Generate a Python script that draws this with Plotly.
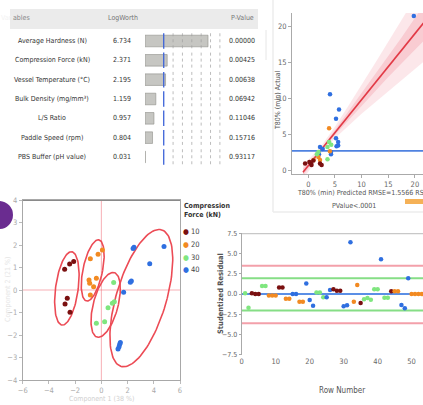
import numpy as np
import plotly.graph_objects as go

W, H = 423, 405
def px(x): return x / W
def py(y): return 1 - y / H

FONT = "Liberation Sans Narrow, DejaVu Sans Condensed, Roboto, sans-serif"

# ---------------- Panel 1: effect summary table ----------------
variables = ["Average Hardness (N)", "Compression Force (kN)", "Vessel Temperature (°C)",
             "Bulk Density (mg/mm³)", "L/S Ratio", "Paddle Speed (rpm)", "PBS Buffer (pH value)"]
logworth = [6.734, 2.371, 2.195, 1.159, 0.957, 0.804, 0.031]
pvalues = ["0.00000", "0.00425", "0.00638", "0.06942", "0.11046", "0.15716", "0.93117"]
logworth_ref = 2.0
logworth_grid = [3, 4, 5, 6, 7, 8]

# ---------------- Panel 2: actual by predicted ----------------
pred_x = [4.07, 5.76, 5.2, 5.2, 5.6, 5.6, 5.3, 4.26, 4.26, 2.2, 2.7, 2.0, 19.8,
          3.9, 4.05, 1.9, 1.0, 2.2,
          3.9, 3.6, 4.3, 3.6, 1.9, 1.6,
          -0.6, 0.5, 0.2, 0.95, 0.6, 2.2, 2.5]
actual_y = [10.6, 8.5, 7.2, 4.5, 4.0, 3.5, 3.4, 2.6, 2.3, 3.3, 3.0, 2.3, 21.5,
            5.9, 2.7, 1.9, 1.5, 1.5,
            4.0, 3.3, 3.6, 1.6, 2.6, 2.3,
            1.0, 1.0, 1.2, 1.4, 0.8, 1.0, 0.8]
pred_group = ["40"] * 13 + ["20"] * 5 + ["30"] * 6 + ["10"] * 7
fit_x = [-1.0, 21.6]
fit_y = [-0.2, 20.5]
band_x = [-1, 0, 2.5, 5, 7.5, 10, 12.5, 15, 17.5, 20, 21.6]
outer_lo = [-1.2, -0.1, 2.5, 4.5, 6.2, 7.9, 9.5, 11.1, 12.6, 14.1, 15.1]
outer_hi = [0.8, 1.5, 3.5, 6.1, 9.0, 11.9, 14.9, 17.9, 20.8, 23.9, 25.9]
inner_lo = [-0.7, 0.35, 2.8, 4.95, 7.0, 9.0, 11.0, 13.0, 14.9, 16.8, 18.0]
inner_hi = [0.3, 1.1, 3.2, 5.65, 8.2, 10.8, 13.3, 15.9, 18.5, 21.2, 22.9]
mean_actual = 2.74

# ---------------- Panel 3: score plot ----------------
groups = ["10", "20", "30", "40"]
colors = {"10": "#7a1010", "20": "#f28a22", "30": "#7fe67f", "40": "#2f6fe0"}
score_x = {
    "10": [-2.80, -2.42, -2.11, -2.60, -2.77, -2.39],
    "20": [-0.84, -0.25, 0.08, -0.94, -0.89, -0.38, -0.59, -0.84],
    "30": [0.94, 0.99, 0.84, 0.51, -0.38, 0.25],
    "40": [2.49, 2.42, 4.78, 3.69, 2.29, 2.21, 1.70, 1.40, 1.35, 1.27, 1.45],
}
score_y = {
    "10": [0.92, 1.16, 1.27, -0.37, -0.62, -0.99],
    "20": [1.39, 1.59, 1.78, 0.44, 0.30, 0.52, 0.15, -0.22],
    "30": [0.33, -0.52, -0.59, -0.79, -1.48, -1.41],
    "40": [1.90, 1.85, 1.93, 1.17, 0.40, 0.34, -0.10, -2.41, -2.52, -2.62, -2.33],
}
# ellipse: centre, semi-diameter to top end, horizontal semi-width
ell_cx = [-2.63, -0.66, 0.33, 3.05]
ell_cy = [0.07, 0.87, -0.66, -0.36]
ell_ux = [0.34, 0.43, 0.56, 1.35]
ell_uy = [1.63, 1.36, 1.44, 3.05]
ell_vx = [0.87, 0.76, 0.97, 1.98]

# ---------------- Panel 4: residual by row ----------------
rows = list(range(1, 54))
resid = [0.1, -1.7, 0.1, 0.0, 0.0, 1.0, 1.0, -0.2, -0.2, -0.2,
         0.8, 0.8, -0.6, -0.6, 0.0, 0.0, -0.95, -0.95, 1.3, -0.75,
         -1.45, 0.2, 0.2, -0.4, -0.4, 0.5, 0.6, 0.4, 0.4, -1.5,
         -1.4, 6.4, -0.95, 1.1, -1.1, -0.65, -0.5, -0.7, 0.6, 0.6,
         4.3, -0.45, -0.45, 0.35, 0.35, 0.35, -1.35, -1.75, 1.95, 0.0,
         0.0, 0.0, 0.0]
resid_group = ["30", "30", "10", "10", "10", "30", "30", "20", "20", "20",
               "10", "10", "20", "20", "40", "40", "20", "20", "40", "40",
               "40", "30", "30", "30", "40", "40", "10", "10", "10", "40",
               "40", "40", "20", "20", "10", "30", "30", "30", "30", "30",
               "40", "30", "30", "10", "20", "20", "40", "40", "40", "20",
               "20", "20", "20"]
resid_levels = [7.5, 3.5, 1.95, 0.0, -2.05, -3.6]
resid_level_colors = ["#c8c8c8", "#f3a0aa", "#86de86", "#5b8fe6", "#86de86", "#f3a0aa"]

fig = go.Figure()
shapes, annos = [], []

def txt(x, y, text, size=7, color="#333", xanchor="center", yref="paper", **kw):
    annos.append(dict(x=x, y=y, xref="paper", yref=yref, text=text, showarrow=False,
                      xanchor=xanchor, yanchor=kw.pop("yanchor", "middle"),
                      font=dict(size=size, color=color, family=FONT), **kw))

# ---- card outlines ----
shapes.append(dict(type="line", xref="paper", yref="paper", x0=px(273), x1=px(273),
                   y0=py(212), y1=py(0), line=dict(color="#ececec", width=1.5), layer="below"))
shapes.append(dict(type="line", xref="paper", yref="paper", x0=px(273), x1=px(423),
                   y0=py(212), y1=py(212), line=dict(color="#ececec", width=1.5), layer="below"))

# ---- Panel 1 ----
fig.add_trace(go.Bar(y=list(range(len(variables))), x=logworth, orientation="h",
                     width=0.6, marker=dict(color="#c6c6c2", line=dict(color="#8e8e8a", width=0.6)),
                     xaxis="x", yaxis="y", showlegend=False, hoverinfo="skip"))
shapes.append(dict(type="rect", xref="paper", yref="paper", x0=px(10), x1=px(258),
                   y0=py(29), y1=py(9), fillcolor="#ebebeb", line=dict(width=0), layer="below"))
shapes.append(dict(type="line", xref="paper", yref="paper", x0=px(266), x1=px(266),
                   y0=py(60), y1=py(30), line=dict(color="#e6e6e6", width=1)))
for i in range(len(variables)):
    shapes.append(dict(type="line", xref="x", yref="y", x0=logworth_ref, x1=logworth_ref,
                       y0=i - 0.4, y1=i + 0.4, line=dict(color="#3d63d8", width=1.3)))
    for g in logworth_grid:
        shapes.append(dict(type="line", xref="x", yref="y", x0=g, x1=g, y0=i - 0.4, y1=i + 0.4,
                           line=dict(color="#a0a0a0", width=0.7, dash="dot")))
    txt(px(52), i, variables[i], yref="y")
    txt(px(122), i, f"{logworth[i]:.3f}", yref="y")
    txt(px(242), i, pvalues[i], yref="y")
txt(px(32), -1.19, '<span style="color:#f3f3f3">Vari</span>ables', color="#888",
    xanchor="right", yref="y")
txt(px(123), -1.19, "LogWorth", color="#777", yref="y")
txt(px(242), -1.19, "P-Value", color="#777", yref="y")

# ---- Panel 2 ----
fig.add_trace(go.Scatter(x=band_x + band_x[::-1], y=outer_hi + outer_lo[::-1], fill="toself",
                         fillcolor="rgba(246,170,178,0.28)", line=dict(width=0), mode="lines",
                         xaxis="x2", yaxis="y2", showlegend=False, hoverinfo="skip"))
fig.add_trace(go.Scatter(x=band_x + band_x[::-1], y=inner_hi + inner_lo[::-1], fill="toself",
                         fillcolor="rgba(238,125,138,0.25)", line=dict(width=0), mode="lines",
                         xaxis="x2", yaxis="y2", showlegend=False, hoverinfo="skip"))
fig.add_trace(go.Scatter(x=fit_x, y=fit_y, mode="lines", line=dict(color="#e23a46", width=1.6),
                         xaxis="x2", yaxis="y2", showlegend=False, hoverinfo="skip"))
fig.add_trace(go.Scatter(x=[-3.06, 21.52], y=[mean_actual, mean_actual], mode="lines",
                         line=dict(color="#4f82e0", width=1.8),
                         xaxis="x2", yaxis="y2", showlegend=False, hoverinfo="skip"))
fig.add_trace(go.Scatter(x=pred_x, y=actual_y, mode="markers",
                         marker=dict(size=4.5, color=[colors[g] for g in pred_group]),
                         xaxis="x2", yaxis="y2", showlegend=False))
txt(px(278), py(100), "T80% (min) Actual", color="#555", textangle=-90)
txt(px(295), py(193), "T80% (min) Predicted RMSE=1.5566 RSq=0.84", color="#555", xanchor="left")
txt(px(354), py(206), "PValue&lt;.0001", color="#555")
shapes.append(dict(type="rect", xref="paper", yref="paper", x0=px(405), x1=px(423),
                   y0=py(204), y1=py(199), fillcolor="#f3a33a", line=dict(width=0), opacity=0.85))

# ---- Panel 3 ----
for k, g in enumerate(groups):
    t = np.linspace(0, 2 * np.pi, 120)
    ex = ell_cx[k] + np.sin(t) * ell_ux[k] + np.cos(t) * ell_vx[k]
    ey = ell_cy[k] + np.sin(t) * ell_uy[k]
    fig.add_trace(go.Scatter(x=ex, y=ey, mode="lines", line=dict(color="#ec4b55", width=1.6),
                             xaxis="x3", yaxis="y3", showlegend=False, hoverinfo="skip"))
for g in groups:
    fig.add_trace(go.Scatter(x=score_x[g], y=score_y[g], mode="markers",
                             marker=dict(size=5, color=colors[g]), name=g,
                             xaxis="x3", yaxis="y3", showlegend=False))
shapes.append(dict(type="line", xref="x3", yref="y3", x0=-6, x1=6, y0=0, y1=0,
                   line=dict(color="rgba(240,110,120,0.55)", width=1), layer="below"))
shapes.append(dict(type="line", xref="x3", yref="y3", x0=0, x1=0, y0=-4, y1=4,
                   line=dict(color="rgba(240,110,120,0.55)", width=1), layer="below"))
shapes.append(dict(type="line", xref="x3", yref="y3", x0=-6, x1=6, y0=4, y1=4,
                   line=dict(color="#8a8a8a", width=2)))
txt(px(182), py(200), "<b>Compression<br>Force (kN)</b>", size=7, color="#333",
    xanchor="left", yanchor="top", align="left")
for g, yy in zip(groups, [231, 244, 257, 269]):
    txt(px(181), py(yy), f'<span style="color:{colors[g]}">●</span> {g}', size=7.5,
        color="#444", xanchor="left")
txt(px(101), py(399), "Component 1 (38 %)", color="#d0d0d0")
txt(px(8), py(290), "Component 2 (21 %)", color="#e6e6e6", textangle=-90)
shapes.append(dict(type="circle", xref="paper", yref="paper", x0=px(-15), x1=px(13),
                   y0=py(229), y1=py(201), fillcolor="#6a2c90", line=dict(width=0)))

# ---- Panel 4 ----
for lv, lc in zip(resid_levels, resid_level_colors):
    shapes.append(dict(type="line", xref="x4", yref="y4", x0=0, x1=53.35, y0=lv, y1=lv,
                       line=dict(color=lc, width=2), layer="below"))
fig.add_trace(go.Scatter(x=rows, y=resid, mode="markers",
                         marker=dict(size=4.5, color=[colors[g] for g in resid_group]),
                         xaxis="x4", yaxis="y4", showlegend=False))
txt(px(220), py(294), "<b>Studentized Residual</b>", size=7.5, color="#555", textangle=-90)
txt(px(342), py(390), "Row Number", size=8, color="#555")

hidden = dict(visible=False)
tickfont = dict(size=7.5, color="#666", family=FONT)
common = dict(showgrid=False, zeroline=False, automargin=False)
fig.update_layout(
    width=W, height=H, margin=dict(l=0, r=0, t=0, b=0, autoexpand=False),
    paper_bgcolor="white", plot_bgcolor="rgba(0,0,0,0)", showlegend=False,
    shapes=shapes, annotations=annos,
    xaxis=dict(domain=[px(145), px(225)], range=[0, 80 / 9.36], automargin=False, **hidden),
    yaxis=dict(domain=[py(175), py(8)], range=[6.932, -1.707], automargin=False, **hidden),
    xaxis2=dict(domain=[px(292), 1], range=[-3.06, 21.52], tickvals=[0, 5, 10, 15, 20],
                showline=True, linecolor="#aaa", ticks="outside", ticklen=3, tickcolor="#aaa",
                tickfont=tickfont, anchor="y2", **common),
    yaxis2=dict(domain=[py(174), py(13)], range=[-0.46, 21.9], tickvals=[0, 5, 10, 15, 20],
                showline=True, linecolor="#aaa", ticks="outside", ticklen=3, tickcolor="#aaa",
                tickfont=tickfont, anchor="x2", **common),
    xaxis3=dict(domain=[px(22.7), px(180)], range=[-6, 6], tickvals=[-6, -4, -2, 0, 2, 4, 6],
                showline=True, mirror=True, linecolor="#a8a8a8", ticks="outside", ticklen=3,
                tickcolor="#bbb", tickfont=dict(size=7.5, color="#aaa", family=FONT),
                anchor="y3", **common),
    yaxis3=dict(domain=[py(380), py(200)], range=[-4, 4], tickvals=[-4, -3, -2, -1, 0, 1, 2, 3, 4],
                showline=True, mirror=True, linecolor="#a8a8a8", ticks="outside", ticklen=3,
                tickcolor="#bbb", tickfont=dict(size=7.5, color="#aaa", family=FONT),
                anchor="x3", **common),
    xaxis4=dict(domain=[px(241.7), 1], range=[0, 53.35], tickvals=[0, 10, 20, 30, 40, 50],
                showline=False, ticks="", tickfont=tickfont, anchor="y4", **common),
    yaxis4=dict(domain=[py(355), py(233)], range=[-7.53, 7.53],
                tickvals=[-7.5, -5, -2.5, 0, 2.5, 5, 7.5], tickformat=".1f",
                showline=True, linecolor="#aaa", ticks="outside", ticklen=2, tickcolor="#aaa",
                tickfont=dict(size=7, color="#666", family=FONT), anchor="x4", **common),
)
fig.write_html("out.html", config={"displayModeBar": False},
               post_script="document.body.style.margin='0';document.body.style.overflow='hidden';")
